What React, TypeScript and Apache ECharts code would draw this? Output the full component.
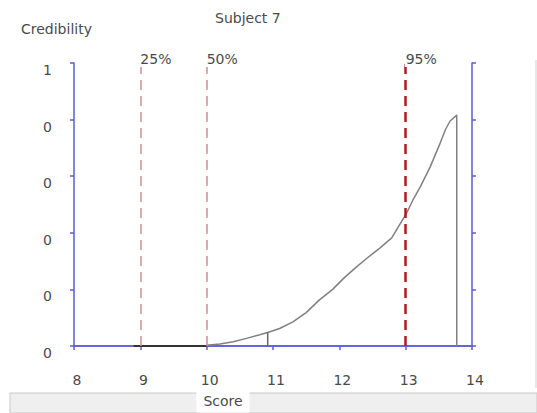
import React, { useEffect, useRef } from "react";
import * as echarts from "echarts";

const titleText = "Subject 7";
const yAxisTitle = "Credibility";
const xAxisTitle = "Score";

const xTicks = [8, 9, 10, 11, 12, 13, 14];
const yTicks = [0, 0.2, 0.4, 0.6, 0.8, 1];

// score and credibility of the curve
const curveScores = [10.0, 10.2, 10.4, 10.6, 10.8, 10.92, 11.1, 11.3, 11.5, 11.7, 11.9, 12.06, 12.25, 12.42, 12.61, 12.79, 12.9, 13.0, 13.11, 13.22, 13.37, 13.52, 13.6, 13.67, 13.77, 13.77];
const curveValues = [0.003, 0.007, 0.015, 0.027, 0.04, 0.048, 0.062, 0.085, 0.118, 0.163, 0.2, 0.238, 0.278, 0.311, 0.346, 0.382, 0.425, 0.463, 0.516, 0.562, 0.633, 0.717, 0.765, 0.795, 0.816, 0.0];

const baseScores = [8.9, 10.0];
const baseValues = [0, 0];

const markerScore = 10.92;
const markerValues = [0, 0.048];

const quantileLabels = ["25%", "50%", "95%"];
const quantileScores = [9, 10, 13];
const quantileColors = ["#d98a8a", "#d98a8a", "#b01c1c"];
const quantileWidths = [1.5, 1.5, 2.5];

const AXIS_BLUE = "#5c5cd6";
const TEXT = "#4a4a4a";
const FONT = "'DejaVu Sans', Verdana, sans-serif";

export default function App() {
  const ref = useRef<HTMLDivElement>(null);
  useEffect(() => {
    document.body.style.margin = "0";
    if (!ref.current) return;
    const chart = echarts.init(ref.current, undefined, { renderer: "svg" });
    const axisLine = { show: true, lineStyle: { color: AXIS_BLUE, width: 1.5 } };
    chart.setOption({
      animation: false,
      textStyle: { fontFamily: FONT },
      title: [
        { text: titleText, left: 210, top: 6, textStyle: { fontSize: 14, fontWeight: "normal", color: TEXT, fontFamily: FONT } },
        { text: yAxisTitle, left: 16, top: 17, textStyle: { fontSize: 14, fontWeight: "normal", color: TEXT, fontFamily: FONT } },
      ],
      grid: { left: 74, right: 65, top: 63, bottom: 67, outerBoundsMode: "none", containLabel: false },
      xAxis: [
        {
          type: "value", min: xTicks[0], max: xTicks[xTicks.length - 1], interval: 1,
          axisLine, splitLine: { show: false },
          axisTick: { show: true, length: 4, lineStyle: { color: AXIS_BLUE, width: 1.5 } },
          axisLabel: { color: TEXT, fontSize: 14, margin: 27, fontFamily: FONT, padding: [0, 0, 0, 6] },
        },
        {
          type: "value", position: "top", min: xTicks[0], max: xTicks[xTicks.length - 1], interval: 1,
          axisLine, axisTick: { show: false }, axisLabel: { show: false }, splitLine: { show: false },
        },
      ],
      yAxis: [
        {
          type: "value", min: yTicks[0], max: yTicks[yTicks.length - 1], interval: 0.2,
          axisLine, splitLine: { show: false },
          axisTick: { show: true, length: 4, lineStyle: { color: AXIS_BLUE, width: 1.5 } },
          axisLabel: { color: TEXT, fontSize: 14, margin: 22, fontFamily: FONT, verticalAlign: "top", formatter: (v: number) => String(Math.floor(v + 1e-9)) },
        },
        {
          type: "value", position: "right", min: yTicks[0], max: yTicks[yTicks.length - 1], interval: 0.2,
          axisLine, splitLine: { show: false },
          axisTick: { show: true, length: 4, lineStyle: { color: AXIS_BLUE, width: 1.5 } },
          axisLabel: { show: false },
        },
      ],
      series: [
        {
          type: "line", data: baseScores.map((s, i) => [s, baseValues[i]]), symbol: "none",
          lineStyle: { color: "#333", width: 2 }, z: 3,
        },
        {
          type: "line", data: curveScores.map((s, i) => [s, curveValues[i]]), symbol: "none",
          lineStyle: { color: "#808080", width: 1.5 }, z: 4,
          markLine: {
            silent: true, symbol: "none", label: { show: false },
            data: quantileScores.map((s, i) => ({
              xAxis: s,
              lineStyle: { color: quantileColors[i], width: quantileWidths[i], type: [10, 6] },
            })),
          },
        },
        {
          type: "line", data: markerValues.map((v) => [markerScore, v]), symbol: "none",
          lineStyle: { color: "#666", width: 1.5 }, z: 4,
        },
      ],
    });

    const topY = chart.convertToPixel({ yAxisIndex: 0 }, yTicks[yTicks.length - 1]) as number;
    chart.setOption({
      graphic: [
        { type: "rect", z: -10, shape: { x: 10, y: 393, width: 527, height: 20 }, style: { fill: "#efefef", stroke: "#c8c8c8", lineWidth: 1 } },
        { type: "line", z: -10, shape: { x1: 536, y1: 60, x2: 536, y2: 388 }, style: { stroke: "#cfcfcf", lineWidth: 1 } },
        {
          type: "text", z: 50, x: 223, y: 401,
          style: { text: xAxisTitle, font: `14px ${FONT}`, fill: TEXT, backgroundColor: "#fff", align: "center", verticalAlign: "middle", padding: [3, 7, 6, 7] },
        },
        ...quantileLabels.map((t, i) => ({
          type: "text",
          z: 100,
          x: (chart.convertToPixel({ xAxisIndex: 0 }, quantileScores[i]) as number) - 1,
          y: topY - 4,
          style: { text: t, font: `14px ${FONT}`, fill: TEXT, backgroundColor: "#fff", verticalAlign: "middle", align: "left", padding: [1, 1, 1, 1] },
        })),
      ],
    });
    return () => chart.dispose();
  }, []);
  return <div ref={ref} style={{ width: 537, height: 413 }} />;
}
